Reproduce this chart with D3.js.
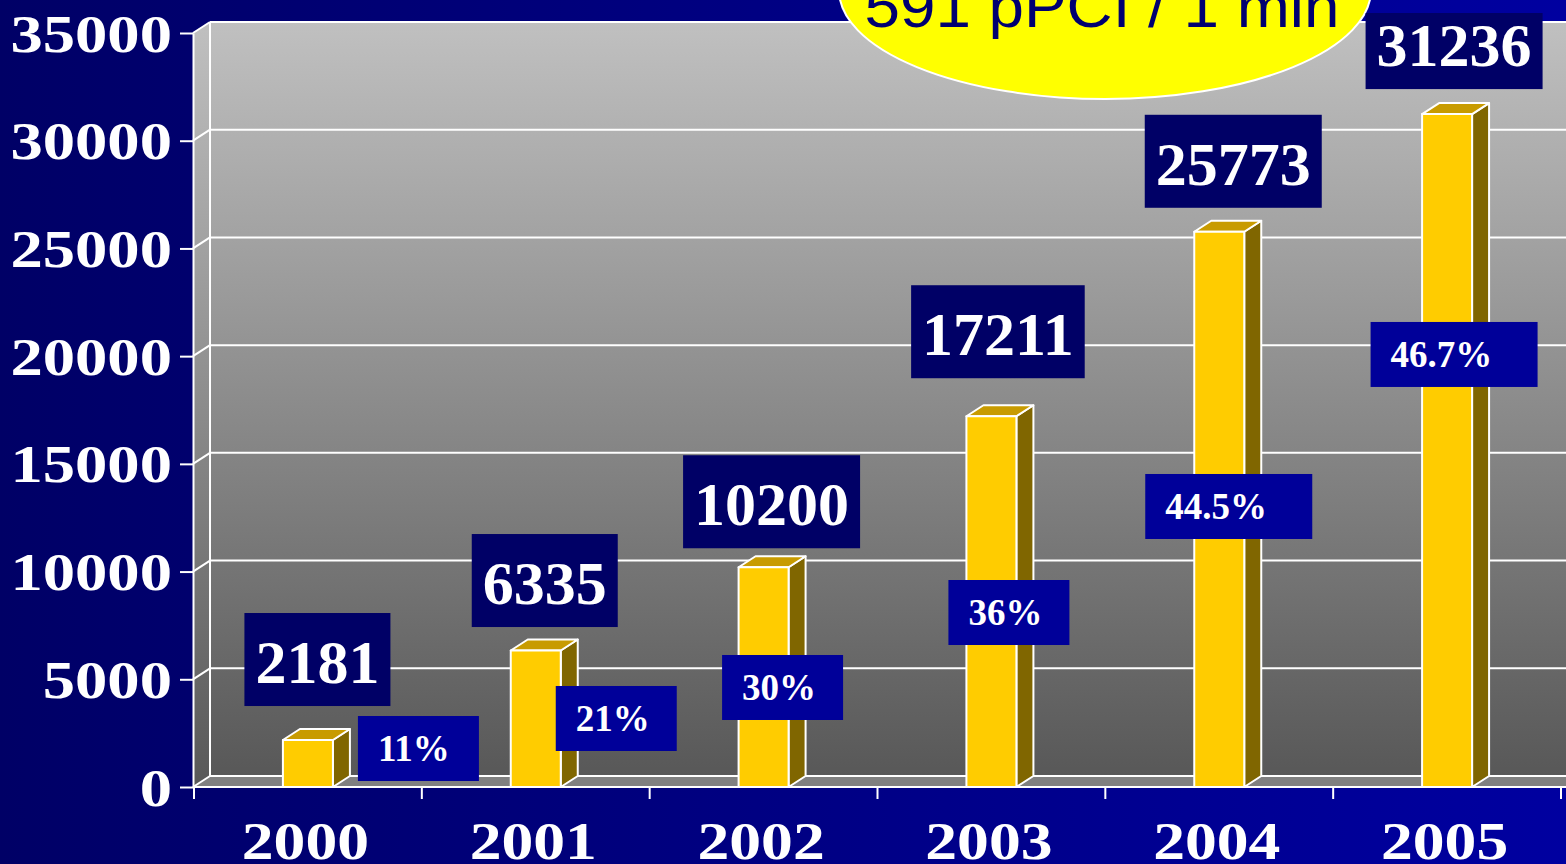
<!DOCTYPE html>
<html>
<head>
<meta charset="utf-8">
<script src="https://cdn.jsdelivr.net/npm/d3@7"></script>
<style>
  body { margin: 0; background: #000066; overflow: hidden; }
  svg { display: block; }
</style>
</head>
<body>
<div id="chart"></div>
<script>
// chart data
var years = ["2000", "2001", "2002", "2003", "2004", "2005"];
var counts = [2181, 6335, 10200, 17211, 25773, 31236];
var shares = ["11%", "21%", "30%", "36%", "44.5%", "46.7%"];
var yTicks = [0, 5000, 10000, 15000, 20000, 25000, 30000, 35000];
var badgeText = "591 pPCI / 1 min";

// where the callout boxes sit (layout only)
var valueLift = [34, 23.5, 19, 38, 24, 25];
var valueShift = [9.5, 9, 8, 6.5, 14, 7];
var shareShift = [50, 20, -41.5, -43, -74, -76.5];
var shareLevel = [1787, 3180, 4619, 8100, 13021, 20078];
var shareWidth = [121, 121, 121, 121, 167, 167];

var W = 1566, H = 864;
var depthX = 17, depthY = -11;
var serif = "'Liberation Serif', 'Times New Roman', serif";

var svg = d3.select("#chart").append("svg")
    .attr("width", W)
    .attr("height", H);

var defs = svg.append("defs");

var bg = defs.append("linearGradient").attr("id", "bg")
    .attr("x1", 0).attr("y1", 0).attr("x2", 1).attr("y2", 0);
bg.append("stop").attr("offset", "0").attr("stop-color", "#000066");
bg.append("stop").attr("offset", "1").attr("stop-color", "#0000a0");

var wall = defs.append("linearGradient").attr("id", "wall")
    .attr("x1", 0).attr("y1", 0).attr("x2", 0).attr("y2", 1);
wall.append("stop").attr("offset", "0").attr("stop-color", "#c0c0c0");
wall.append("stop").attr("offset", "1").attr("stop-color", "#585858");

svg.append("rect").attr("width", W).attr("height", H).attr("fill", "url(#bg)");

var y = d3.scaleLinear().domain([0, 35000]).range([787, 33]);
var x = d3.scaleBand().domain(years).range([194, 1561]).padding(0);

var left = 193, right = W + 40;
var y0 = y(0), yTop = y(35000);

// back wall + side wall + floor
svg.append("rect")
    .attr("x", left + depthX).attr("y", yTop + depthY)
    .attr("width", right - left).attr("height", y0 - yTop)
    .attr("fill", "url(#wall)");

svg.append("polygon")
    .attr("points", [[left, yTop], [left + depthX, yTop + depthY], [left + depthX, y0 + depthY], [left, y0]].join(" "))
    .attr("fill", "url(#wall)");

svg.append("polygon")
    .attr("points", [[left, y0], [left + depthX, y0 + depthY], [right, y0 + depthY], [right, y0]].join(" "))
    .attr("fill", "#808080");

// gridlines
var grid = svg.append("g").attr("stroke", "#fff").attr("stroke-width", 2);
yTicks.forEach(function(t) {
  grid.append("line")
      .attr("x1", left + depthX).attr("x2", right)
      .attr("y1", y(t) + depthY).attr("y2", y(t) + depthY);
  grid.append("line")
      .attr("x1", left).attr("x2", left + depthX)
      .attr("y1", y(t)).attr("y2", y(t) + depthY);
});
grid.append("line")
    .attr("x1", left + depthX).attr("x2", left + depthX)
    .attr("y1", yTop + depthY).attr("y2", y0 + depthY);

// y axis
var yAxis = svg.append("g")
    .attr("transform", "translate(" + left + ",0)")
    .call(d3.axisLeft(y).tickValues(yTicks).tickSize(13).tickSizeOuter(0).tickFormat(d3.format("d")));
yAxis.selectAll("path, line").attr("stroke", "#fff").attr("stroke-width", 2);
yAxis.selectAll("text")
    .attr("fill", "#fff")
    .attr("font-family", serif)
    .attr("font-weight", "bold")
    .attr("font-size", 53)
    .attr("x", -21 / 1.22)
    .attr("dy", "0.34em")
    .attr("transform", "scale(1.22,1)");

// x axis
var xAxis = svg.append("g")
    .attr("transform", "translate(0," + y0 + ")")
    .call(d3.axisBottom(x).tickSize(0).tickSizeOuter(0));
xAxis.select(".domain").attr("d", "M" + left + ",0H" + right).attr("stroke", "#fff").attr("stroke-width", 2);
xAxis.selectAll(".tick").attr("transform", function(d) {
  return "translate(" + (x(d) + x.bandwidth() / 2 - 2.5) + ",0)";
});
xAxis.selectAll("text")
    .attr("fill", "#fff")
    .attr("font-family", serif)
    .attr("font-weight", "bold")
    .attr("font-size", 53)
    .attr("y", 72)
    .attr("dy", 0)
    .attr("transform", "scale(1.2,1)");

d3.range(years.length + 1).forEach(function(i) {
  var tx = x.range()[0] + i * x.step();
  svg.append("line")
      .attr("x1", tx).attr("x2", tx)
      .attr("y1", y0).attr("y2", y0 + 12)
      .attr("stroke", "#fff").attr("stroke-width", 2);
});

// 3d bars
var barW = 50;
var bars = svg.selectAll(".bar")
    .data(counts)
  .enter().append("g")
    .attr("class", "bar")
    .attr("stroke", "#fff")
    .attr("stroke-width", 2)
    .attr("stroke-linejoin", "round");

bars.each(function(d, i) {
  var g = d3.select(this);
  var x0 = x(years[i]) + x.bandwidth() / 2 - barW / 2, x1 = x0 + barW;
  var yv = y(d);
  g.append("polygon")
      .attr("points", [[x1, yv], [x1 + depthX, yv + depthY], [x1 + depthX, y0 + depthY], [x1, y0]].join(" "))
      .attr("fill", "#806600");
  g.append("polygon")
      .attr("points", [[x0, yv], [x0 + depthX, yv + depthY], [x1 + depthX, yv + depthY], [x1, yv]].join(" "))
      .attr("fill", "#c89b00");
  g.append("rect")
      .attr("x", x0).attr("y", yv)
      .attr("width", barW).attr("height", y0 - yv)
      .attr("fill", "#ffcc00");
});

// share boxes
shares.forEach(function(s, i) {
  var cx = x(years[i]) + x.bandwidth() / 2;
  var bx = cx + shareShift[i];
  var by = y(shareLevel[i]) - 32.5;
  svg.append("rect")
      .attr("x", bx).attr("y", by)
      .attr("width", shareWidth[i]).attr("height", 65)
      .attr("fill", "#000099");
  svg.append("text")
      .attr("x", bx + 20).attr("y", by + 32.5)
      .attr("dy", "0.34em")
      .attr("fill", "#fff")
      .attr("font-family", serif)
      .attr("font-weight", "bold")
      .attr("font-size", 37)
      .text(s);
});

// yellow badge
svg.append("ellipse")
    .attr("cx", 1105).attr("cy", -10)
    .attr("rx", 266).attr("ry", 109)
    .attr("fill", "#ffff00")
    .attr("stroke", "#fff")
    .attr("stroke-width", 2);
svg.append("text")
    .attr("x", 1102).attr("y", 27)
    .attr("text-anchor", "middle")
    .attr("fill", "#000070")
    .attr("font-family", "'Liberation Sans', Arial, sans-serif")
    .attr("font-size", 60)
    .attr("textLength", 475)
    .attr("lengthAdjust", "spacingAndGlyphs")
    .text(badgeText);

// value boxes
counts.forEach(function(d, i) {
  var cx = x(years[i]) + x.bandwidth() / 2 + valueShift[i];
  var bottom = y(d) - valueLift[i];
  var top = Math.max(bottom - 93, 13);
  var t = svg.append("text")
      .attr("x", cx).attr("y", bottom - 44)
      .attr("dy", "0.34em")
      .attr("text-anchor", "middle")
      .attr("fill", "#fff")
      .attr("font-family", serif)
      .attr("font-weight", "bold")
      .attr("font-size", 62)
      .text(d);
  var w = t.node().getComputedTextLength() + 22;
  svg.insert("rect", function() { return t.node(); })
      .attr("x", cx - w / 2).attr("y", top)
      .attr("width", w).attr("height", bottom - top)
      .attr("fill", "#000066");
});
</script>
</body>
</html>
